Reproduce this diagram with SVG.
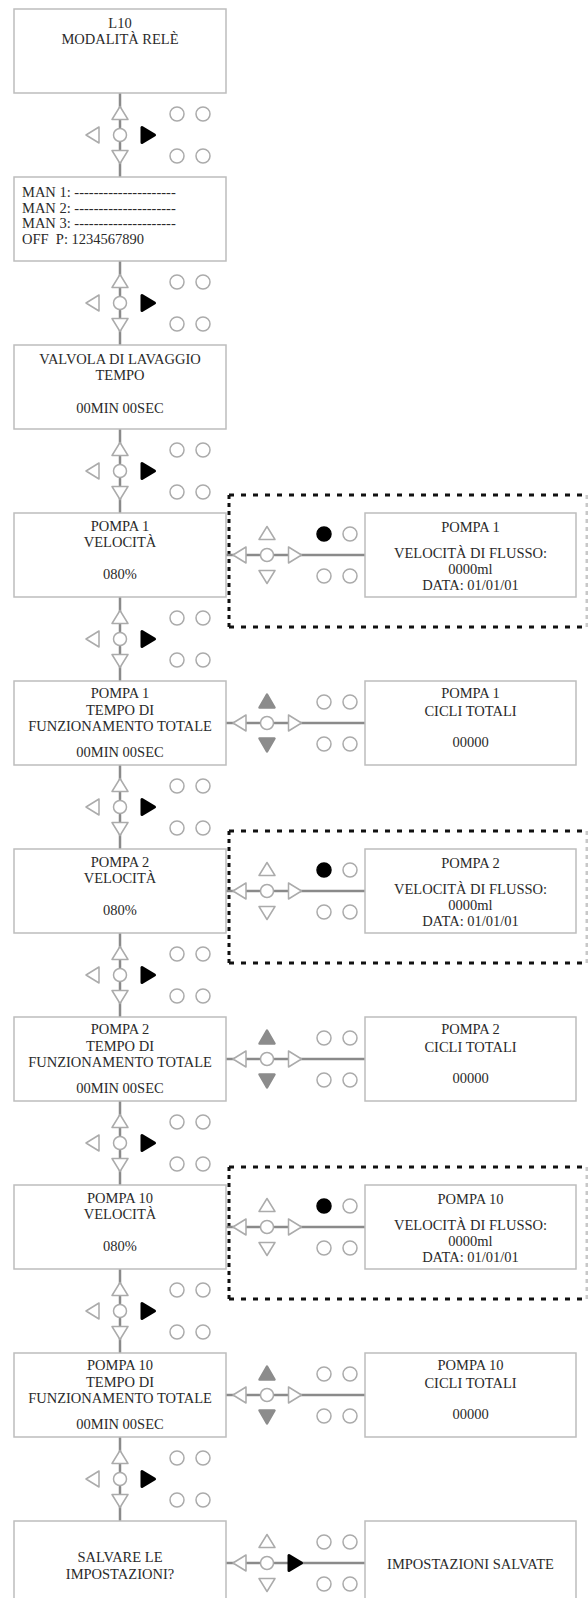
<svg xmlns="http://www.w3.org/2000/svg" width="588" height="1598" viewBox="0 0 588 1598">
<style>
.box{fill:#fff;stroke:#bdbdbd;stroke-width:1.5}
text{font-family:'Liberation Serif','Times New Roman','DejaVu Serif',serif;font-size:14.5px;fill:#2a2a2a}
.t{text-anchor:middle}
.tl{white-space:pre}
.ln{stroke:#8a8a8a;stroke-width:2.5;fill:none}
.ho{fill:#fff;stroke:#ababab;stroke-width:1.5;stroke-linejoin:round}
.bk{fill:#000;stroke:#000;stroke-width:3;stroke-linejoin:round}
.bc{fill:#000;stroke:#000;stroke-width:1.5}
.gr{fill:#8c8c8c;stroke:#8c8c8c;stroke-width:2.5;stroke-linejoin:round}
.dh{fill:none;stroke:#111;stroke-width:3;stroke-dasharray:5 7}
.dv{fill:none;stroke:#111;stroke-width:3;stroke-dasharray:4 4}
.dr{fill:none;stroke:#c8c8c8;stroke-width:3;stroke-dasharray:4 4}
</style>
<defs>
<g id="kpV">
<path class="ho" d="M0,-28.5 L8,-15.5 L-8,-15.5 Z"/>
<path class="ho" d="M0,28.5 L8,15.5 L-8,15.5 Z"/>
<path class="ho" d="M-34,0 L-21,-8 L-21,8 Z"/>
<path class="bk" d="M34.5,0 L22,-7.5 L22,7.5 Z"/>
<circle class="ho" cx="0" cy="0" r="6.5"/>
<circle class="ho" cx="57" cy="-21" r="7"/>
<circle class="ho" cx="83" cy="-21" r="7"/>
<circle class="ho" cx="57" cy="21" r="7"/>
<circle class="ho" cx="83" cy="21" r="7"/>
</g>
<g id="kpS">
<path class="ho" d="M0,-28.5 L8,-15.5 L-8,-15.5 Z"/>
<path class="ho" d="M0,28.5 L8,15.5 L-8,15.5 Z"/>
<path class="ho" d="M-34,0 L-21,-8 L-21,8 Z"/>
<path class="ho" d="M34.5,0 L21.5,-8 L21.5,8 Z"/>
<circle class="ho" cx="0" cy="0" r="6.5"/>
<circle class="bc" cx="57" cy="-21" r="7"/>
<circle class="ho" cx="83" cy="-21" r="7"/>
<circle class="ho" cx="57" cy="21" r="7"/>
<circle class="ho" cx="83" cy="21" r="7"/>
</g>
<g id="kpT">
<path class="gr" d="M0,-28.5 L7.5,-15.5 L-7.5,-15.5 Z"/>
<path class="gr" d="M0,28.5 L7.5,15.5 L-7.5,15.5 Z"/>
<path class="ho" d="M-34,0 L-21,-8 L-21,8 Z"/>
<path class="ho" d="M34.5,0 L21.5,-8 L21.5,8 Z"/>
<circle class="ho" cx="0" cy="0" r="6.5"/>
<circle class="ho" cx="57" cy="-21" r="7"/>
<circle class="ho" cx="83" cy="-21" r="7"/>
<circle class="ho" cx="57" cy="21" r="7"/>
<circle class="ho" cx="83" cy="21" r="7"/>
</g>
</defs>
<rect width="588" height="1598" fill="#fff"/>

<g id="groups">
<path class="dh" d="M229,495 H587 M229,627 H587"/>
<path class="dv" d="M229,495 V627"/>
<path class="dr" d="M587,495 V627"/>
<path class="dh" d="M229,831 H587 M229,963 H587"/>
<path class="dv" d="M229,831 V963"/>
<path class="dr" d="M587,831 V963"/>
<path class="dh" d="M229,1167 H587 M229,1299 H587"/>
<path class="dv" d="M229,1167 V1299"/>
<path class="dr" d="M587,1167 V1299"/>
</g>

<g id="connectors">
<path class="ln" d="M120,93 V177 M120,261 V345 M120,429 V513 M120,597 V681 M120,765 V849 M120,933 V1017 M120,1101 V1185 M120,1269 V1353 M120,1437 V1521"/>
<path class="ln" d="M226,555 H365 M226,723 H365 M226,891 H365 M226,1059 H365 M226,1227 H365 M226,1395 H365 M226,1563 H365"/>
</g>

<g id="keypads">
<use href="#kpV" x="120" y="135"/>
<use href="#kpV" x="120" y="303"/>
<use href="#kpV" x="120" y="471"/>
<use href="#kpV" x="120" y="639"/>
<use href="#kpV" x="120" y="807"/>
<use href="#kpV" x="120" y="975"/>
<use href="#kpV" x="120" y="1143"/>
<use href="#kpV" x="120" y="1311"/>
<use href="#kpV" x="120" y="1479"/>
<use href="#kpS" x="267" y="555"/>
<use href="#kpT" x="267" y="723"/>
<use href="#kpS" x="267" y="891"/>
<use href="#kpT" x="267" y="1059"/>
<use href="#kpS" x="267" y="1227"/>
<use href="#kpT" x="267" y="1395"/>
<use href="#kpV" x="267" y="1563"/>
</g>

<g font-family="Liberation Serif, Times New Roman, serif">
<g id="n-l10">
<rect class="box" x="14" y="9" width="212" height="84"/>
<text class="t" x="120" y="28">L10</text>
<text class="t" x="120" y="44">MODALITÀ RELÈ</text>
</g>
<g id="n-man">
<rect class="box" x="14" y="177" width="212" height="84"/>
<text class="tl" x="22" y="197">MAN 1: ---------------------</text>
<text class="tl" x="22" y="212.5">MAN 2: ---------------------</text>
<text class="tl" x="22" y="228">MAN 3: ---------------------</text>
<text class="tl" x="22" y="244">OFF  P: 1234567890</text>
</g>
<g id="n-valvola">
<rect class="box" x="14" y="345" width="212" height="84"/>
<text class="t" x="120" y="364">VALVOLA DI LAVAGGIO</text>
<text class="t" x="120" y="380">TEMPO</text>
<text class="t" x="120" y="413">00MIN 00SEC</text>
</g>
<g id="n-p1vel">
<rect class="box" x="14" y="513" width="212" height="84"/>
<text class="t" x="120" y="531">POMPA 1</text>
<text class="t" x="120" y="547">VELOCITÀ</text>
<text class="t" x="120" y="579">080%</text>
</g>
<g id="n-p1flusso">
<rect class="box" x="365" y="513" width="211" height="84"/>
<text class="t" x="470.5" y="532">POMPA 1</text>
<text class="t" x="470.5" y="558">VELOCITÀ DI FLUSSO:</text>
<text class="t" x="470.5" y="574">0000ml</text>
<text class="t" x="470.5" y="590">DATA: 01/01/01</text>
</g>
<g id="n-p1tempo">
<rect class="box" x="14" y="681" width="212" height="84"/>
<text class="t" x="120" y="698">POMPA 1</text>
<text class="t" x="120" y="715">TEMPO DI</text>
<text class="t" x="120" y="731">FUNZIONAMENTO TOTALE</text>
<text class="t" x="120" y="757">00MIN 00SEC</text>
</g>
<g id="n-p1cicli">
<rect class="box" x="365" y="681" width="211" height="84"/>
<text class="t" x="470.5" y="698">POMPA 1</text>
<text class="t" x="470.5" y="716">CICLI TOTALI</text>
<text class="t" x="470.5" y="747">00000</text>
</g>
<g id="n-p2vel">
<rect class="box" x="14" y="849" width="212" height="84"/>
<text class="t" x="120" y="867">POMPA 2</text>
<text class="t" x="120" y="883">VELOCITÀ</text>
<text class="t" x="120" y="915">080%</text>
</g>
<g id="n-p2flusso">
<rect class="box" x="365" y="849" width="211" height="84"/>
<text class="t" x="470.5" y="868">POMPA 2</text>
<text class="t" x="470.5" y="894">VELOCITÀ DI FLUSSO:</text>
<text class="t" x="470.5" y="910">0000ml</text>
<text class="t" x="470.5" y="926">DATA: 01/01/01</text>
</g>
<g id="n-p2tempo">
<rect class="box" x="14" y="1017" width="212" height="84"/>
<text class="t" x="120" y="1034">POMPA 2</text>
<text class="t" x="120" y="1051">TEMPO DI</text>
<text class="t" x="120" y="1067">FUNZIONAMENTO TOTALE</text>
<text class="t" x="120" y="1093">00MIN 00SEC</text>
</g>
<g id="n-p2cicli">
<rect class="box" x="365" y="1017" width="211" height="84"/>
<text class="t" x="470.5" y="1034">POMPA 2</text>
<text class="t" x="470.5" y="1052">CICLI TOTALI</text>
<text class="t" x="470.5" y="1083">00000</text>
</g>
<g id="n-p10vel">
<rect class="box" x="14" y="1185" width="212" height="84"/>
<text class="t" x="120" y="1203">POMPA 10</text>
<text class="t" x="120" y="1219">VELOCITÀ</text>
<text class="t" x="120" y="1251">080%</text>
</g>
<g id="n-p10flusso">
<rect class="box" x="365" y="1185" width="211" height="84"/>
<text class="t" x="470.5" y="1204">POMPA 10</text>
<text class="t" x="470.5" y="1230">VELOCITÀ DI FLUSSO:</text>
<text class="t" x="470.5" y="1246">0000ml</text>
<text class="t" x="470.5" y="1262">DATA: 01/01/01</text>
</g>
<g id="n-p10tempo">
<rect class="box" x="14" y="1353" width="212" height="84"/>
<text class="t" x="120" y="1370">POMPA 10</text>
<text class="t" x="120" y="1387">TEMPO DI</text>
<text class="t" x="120" y="1403">FUNZIONAMENTO TOTALE</text>
<text class="t" x="120" y="1429">00MIN 00SEC</text>
</g>
<g id="n-p10cicli">
<rect class="box" x="365" y="1353" width="211" height="84"/>
<text class="t" x="470.5" y="1370">POMPA 10</text>
<text class="t" x="470.5" y="1388">CICLI TOTALI</text>
<text class="t" x="470.5" y="1419">00000</text>
</g>
<g id="n-salvare">
<rect class="box" x="14" y="1521" width="212" height="84"/>
<text class="t" x="120" y="1562">SALVARE LE</text>
<text class="t" x="120" y="1579">IMPOSTAZIONI?</text>
</g>
<g id="n-salvate">
<rect class="box" x="365" y="1521" width="211" height="84"/>
<text class="t" x="470.5" y="1569">IMPOSTAZIONI SALVATE</text>
</g>
</g>
</svg>
